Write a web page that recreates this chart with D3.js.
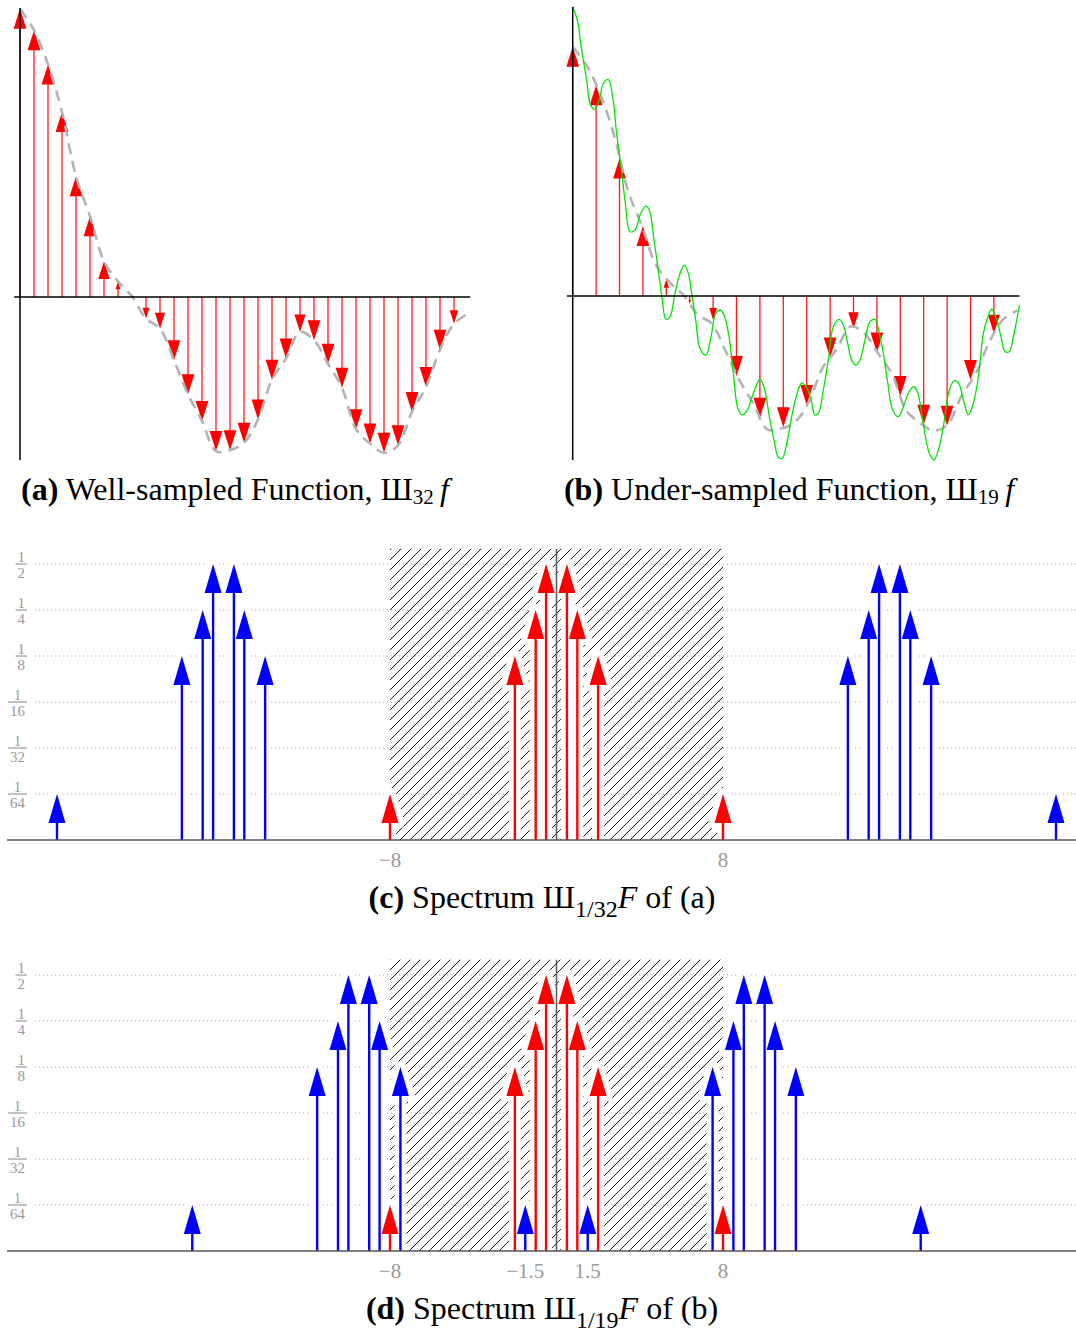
<!DOCTYPE html>
<html>
<head>
<meta charset="utf-8">
<script src="https://cdn.jsdelivr.net/npm/d3@7"></script>
<style>
  body { margin: 0; background: #fff; }
  svg { display: block; font-family: "Liberation Serif", "Times New Roman", serif; }
</style>
</head>
<body>
<div class="chart"></div>
<script>
// Section 1: data
// (a) samples of f at t = i/32, f(0) = 1
var wellSamples = [1.00, 0.926, 0.807, 0.642, 0.419, 0.280, 0.124, 0.054,
  0.002, -0.075, -0.110, -0.220, -0.338, -0.431, -0.535, -0.532,
  -0.506, -0.425, -0.287, -0.214, -0.122, -0.150, -0.232, -0.315,
  -0.459, -0.509, -0.541, -0.515, -0.399, -0.313, -0.183, -0.093];
var curveEndValue = -0.058; // dashed curve at t = 1

// (b) samples of f at t = k/19
var underSamples = [1.00, 0.846, 0.552, 0.281, 0.067, -0.032, -0.096, -0.321,
  -0.488, -0.527, -0.437, -0.247, -0.130, -0.227, -0.401, -0.517,
  -0.521, -0.337, -0.150];

// (b) green reconstruction from the 19 samples
var reconT = [0, 0.0104, 0.0202, 0.0314, 0.0404, 0.0502, 0.0614, 0.0689, 0.0801, 0.0899,
  0.0989, 0.1079, 0.1176, 0.1289, 0.1401, 0.1529, 0.1649, 0.1724, 0.1829, 0.1904,
  0.2001, 0.2099, 0.2189, 0.2301, 0.2414, 0.2511, 0.2601, 0.2676, 0.2766, 0.2863,
  0.2998, 0.3111, 0.3216, 0.3313, 0.3403, 0.3516, 0.3613, 0.3725, 0.3823, 0.3928,
  0.4063, 0.4213, 0.4310, 0.4423, 0.4528, 0.4625, 0.4715, 0.4828, 0.4940, 0.5038,
  0.5150, 0.5248, 0.5353, 0.5450, 0.5525, 0.5638, 0.5750, 0.5862, 0.5997, 0.6087,
  0.6185, 0.6274, 0.6372, 0.6462, 0.6574, 0.6687, 0.6799, 0.6897, 0.6987, 0.7077,
  0.7197, 0.7324, 0.7437, 0.7549, 0.7662, 0.7752, 0.7872, 0.7962, 0.8037, 0.8127,
  0.8225, 0.8337, 0.8472, 0.8577, 0.8675, 0.8787, 0.8900, 0.9012, 0.9125, 0.9237,
  0.9327, 0.9424, 0.9537, 0.9634, 0.9724, 0.9822, 0.9912, 0.9987, 1.0047];
var reconV = [1.161, 1.107, 0.987, 0.866, 0.766, 0.749, 0.800, 0.853, 0.869, 0.800,
  0.652, 0.532, 0.385, 0.258, 0.265, 0.332, 0.361, 0.345, 0.225, 0.131,
  0.004, -0.094, -0.083, 0.011, 0.091, 0.124, 0.091, 0.011, -0.096, -0.210,
  -0.237, -0.163, -0.070, -0.056, -0.076, -0.163, -0.310, -0.457, -0.477, -0.457,
  -0.390, -0.334, -0.370, -0.484, -0.578, -0.647, -0.651, -0.578, -0.471, -0.397,
  -0.350, -0.364, -0.410, -0.477, -0.471, -0.377, -0.257, -0.123, -0.094, -0.116,
  -0.190, -0.257, -0.277, -0.257, -0.176, -0.103, -0.094, -0.150, -0.230, -0.337,
  -0.457, -0.484, -0.444, -0.390, -0.364, -0.384, -0.497, -0.591, -0.638, -0.658,
  -0.618, -0.524, -0.377, -0.340, -0.348, -0.417, -0.477, -0.431, -0.324, -0.150,
  -0.090, -0.053, -0.096, -0.163, -0.223, -0.223, -0.163, -0.096, -0.036];

// spectrum of f
var origFreqs = [-8, -2, -1, -0.5, 0.5, 1, 2, 8];
var origAmps = [1/64, 1/8, 1/4, 1/2, 1/2, 1/4, 1/8, 1/64];
// aliased copies in (c)
var aliasFreqsC = [-24, -18, -17, -16.5, -15.5, -15, -14, 14, 15, 15.5, 16.5, 17, 18, 24];
var aliasAmpsC = [1/64, 1/8, 1/4, 1/2, 1/2, 1/4, 1/8, 1/8, 1/4, 1/2, 1/2, 1/4, 1/8, 1/64];
// aliased copies in (d)
var aliasFreqsD = [-17.5, -11.5, -10.5, -10, -9, -8.5, -7.5, -1.5, 1.5, 7.5, 8.5, 9, 10, 10.5, 11.5, 17.5];
var aliasAmpsD = [1/64, 1/8, 1/4, 1/2, 1/2, 1/4, 1/8, 1/64, 1/64, 1/8, 1/4, 1/2, 1/2, 1/4, 1/8, 1/64];

var gridLevels = [1/2, 1/4, 1/8, 1/16, 1/32, 1/64];
var gridDenoms = ["2", "4", "8", "16", "32", "64"];
var bandEdges = [-8, 8];
var xTicksC = [-8, 8];
var xTickTextC = ["\u22128", "8"];
var xTicksD = [-8, -1.5, 1.5, 8];
var xTickTextD = ["\u22128", "\u22121.5", "1.5", "8"];

// Section 2: svg
var svgWidth = 1076;
var svgHeight = 1332;

var svg = d3
  .select(".chart")
  .append("svg")
  .attr("width", svgWidth)
  .attr("height", svgHeight);

var defs = svg.append("defs");

// diagonal hatching for the pass band
defs
  .append("pattern")
  .attr("id", "hatch")
  .attr("patternUnits", "userSpaceOnUse")
  .attr("width", 10)
  .attr("height", 10)
  .append("path")
  .attr("d", "M-2,2 L2,-2 M0,10 L10,0 M8,12 L12,8")
  .attr("stroke", "#000")
  .attr("stroke-width", 0.9);

// Section 3: sampled function panels
function samplePanel(x, y, sampleValues, showRecon) {
  var g = svg.append("g");
  var n = sampleValues.length;

  // dashed original curve
  var curvePts = wellSamples.map((v, i) => [i / wellSamples.length, v]);
  curvePts.push([1, curveEndValue]);

  var line = d3
    .line()
    .x((d) => x(d[0]))
    .y((d) => y(d[1]))
    .curve(d3.curveCatmullRom);

  // stems and heads
  var arrows = g
    .selectAll(".sample")
    .data(sampleValues)
    .enter()
    .append("g")
    .classed("sample", true);

  arrows
    .append("line")
    .attr("x1", (d, i) => x(i / n))
    .attr("x2", (d, i) => x(i / n))
    .attr("y1", y(0))
    .attr("y2", (d) => {
      var len = Math.abs(y(0) - y(d));
      var hl = Math.min(20, len * 0.5);
      return y(d) + (d > 0 ? 1 : -1) * hl * 0.5;
    })
    .attr("stroke", "#ff1a1a")
    .attr("stroke-width", 1.3);

  arrows
    .append("path")
    .attr("d", (d, i) => {
      var cx = x(i / n);
      var tip = y(d);
      var len = Math.abs(y(0) - tip);
      var hl = Math.min(20, len * 0.5);
      var hw = hl * 0.32;
      var base = tip + (d > 0 ? 1 : -1) * hl;
      return `M${cx - hw},${base} L${cx},${tip} L${cx + hw},${base} Z`;
    })
    .attr("fill", "#ff0000");

  g.append("path")
    .datum(curvePts)
    .attr("d", line)
    .attr("fill", "none")
    .attr("stroke", "#b3b3b3")
    .attr("stroke-width", 2.6)
    .attr("stroke-dasharray", "11,7");

  if (showRecon) {
    var reconPts = reconT.map((t, i) => [t, reconV[i]]);
    g.append("path")
      .datum(reconPts)
      .attr("d", d3.line().x((d) => x(d[0])).y((d) => y(d[1])).curve(d3.curveCatmullRom))
      .attr("fill", "none")
      .attr("stroke", "#00e600")
      .attr("stroke-width", 1.3);
  }

  // axes
  g.append("line")
    .attr("x1", x(0))
    .attr("x2", x(0))
    .attr("y1", y.range()[1])
    .attr("y2", y.range()[0])
    .attr("stroke", "#000")
    .attr("stroke-width", 1.5);

  g.append("line")
    .attr("x1", x(-0.013))
    .attr("x2", x(1.005))
    .attr("y1", y(0))
    .attr("y2", y(0))
    .attr("stroke", "#000")
    .attr("stroke-width", 1.5);
}

var xA = d3.scaleLinear().domain([0, 1]).range([20, 468]);
var yA = d3.scaleLinear().domain([-0.566, 1.003]).range([460, 8]);
samplePanel(xA, yA, wellSamples, false);

var xB = d3.scaleLinear().domain([0, 1]).range([572.7, 1017.3]);
var yB = d3.scaleLinear().domain([-0.658, 1.16]).range([460, 7]);
samplePanel(xB, yB, underSamples, true);

// Section 4: spectrum panels
var xS = d3.scaleLinear().domain([-8, 8]).range([390, 723]);

function arrowShape(cx, tip, base) {
  var hl = 29;
  var hw = 8.5;
  return `M${cx},${base} L${cx},${tip + hl} M${cx - hw},${tip + hl} L${cx},${tip} L${cx + hw},${tip + hl} Z`;
}

function spectrumPanel(baseY, aliasFreqs, aliasAmps, ticks, tickText) {
  var y = d3.scaleLog().base(2).domain([1 / 128, 1 / 2]).range([baseY, baseY - 276]);
  var g = svg.append("g");
  var bandTop = y(0.63);

  // dotted grid
  g.selectAll(".grid")
    .data(gridLevels)
    .enter()
    .append("line")
    .attr("x1", 35)
    .attr("x2", svgWidth)
    .attr("y1", (d) => y(d))
    .attr("y2", (d) => y(d))
    .attr("stroke", "#aaa")
    .attr("stroke-width", 1)
    .attr("stroke-dasharray", "1.2,2.8");

  // fraction labels
  gridLevels.forEach(function (lvl, i) {
    var ly = y(lvl);
    var den = g
      .append("text")
      .attr("y", ly + 13.5)
      .attr("font-size", 15)
      .attr("fill", "#999")
      .attr("text-anchor", "middle")
      .text(gridDenoms[i]);
    var w = den.node().getComputedTextLength() + 4;
    var cx = 27 - w / 2;
    den.attr("x", cx);
    g.append("text")
      .attr("x", cx)
      .attr("y", ly - 2.5)
      .attr("font-size", 15)
      .attr("fill", "#999")
      .attr("text-anchor", "middle")
      .text("1");
    g.append("line")
      .attr("x1", 27 - w)
      .attr("x2", 27)
      .attr("y1", ly)
      .attr("y2", ly)
      .attr("stroke", "#999")
      .attr("stroke-width", 1.2);
  });

  // hatched band between -8 and 8
  g.append("rect")
    .attr("x", xS(bandEdges[0]))
    .attr("y", bandTop)
    .attr("width", xS(bandEdges[1]) - xS(bandEdges[0]))
    .attr("height", baseY - bandTop)
    .attr("fill", "url(#hatch)");

  var all = aliasFreqs
    .map((f, i) => ({ f: f, a: aliasAmps[i], c: "#0000ff" }))
    .concat(origFreqs.map((f, i) => ({ f: f, a: origAmps[i], c: "#ff0000" })));

  // white halos
  g.selectAll(".halo")
    .data(all)
    .enter()
    .append("path")
    .attr("d", (d) => arrowShape(xS(d.f), y(d.a), baseY))
    .attr("fill", "#fff")
    .attr("stroke", "#fff")
    .attr("stroke-width", 12)
    .attr("stroke-linejoin", "round");

  // arrows
  var arrows = g.selectAll(".spike").data(all).enter().append("g");

  arrows
    .append("line")
    .attr("x1", (d) => xS(d.f))
    .attr("x2", (d) => xS(d.f))
    .attr("y1", baseY)
    .attr("y2", (d) => y(d.a) + 20)
    .attr("stroke", (d) => d.c)
    .attr("stroke-width", 2.4);

  arrows
    .append("path")
    .attr("d", (d) => {
      var cx = xS(d.f);
      var tip = y(d.a);
      return `M${cx - 8.5},${tip + 29} L${cx},${tip} L${cx + 8.5},${tip + 29} Z`;
    })
    .attr("fill", (d) => d.c);

  // axes
  g.append("line")
    .attr("x1", xS(0))
    .attr("x2", xS(0))
    .attr("y1", bandTop)
    .attr("y2", baseY)
    .attr("stroke", "#606060")
    .attr("stroke-width", 1.6);

  g.append("line")
    .attr("x1", 7)
    .attr("x2", svgWidth)
    .attr("y1", baseY)
    .attr("y2", baseY)
    .attr("stroke", "#555")
    .attr("stroke-width", 1.6);

  // x tick labels
  g.selectAll(".xtick")
    .data(ticks)
    .enter()
    .append("text")
    .attr("x", (d) => xS(d))
    .attr("y", baseY + 27)
    .attr("font-size", 21)
    .attr("fill", "#999")
    .attr("text-anchor", "middle")
    .text((d, i) => tickText[i]);
}

spectrumPanel(840, aliasFreqsC, aliasAmpsC, xTicksC, xTickTextC);
spectrumPanel(1251, aliasFreqsD, aliasAmpsD, xTicksD, xTickTextD);

// Section 5: captions
function caption(cx, y, tag, before, sub, subSize, subShift, italic, tail) {
  var t = svg
    .append("text")
    .attr("x", cx)
    .attr("y", y)
    .attr("font-size", 32)
    .attr("text-anchor", "middle")
    .attr("fill", "#000");
  t.append("tspan").attr("font-weight", "bold").text(tag);
  t.append("tspan").text(before);
  t.append("tspan").attr("font-size", subSize).attr("dy", subShift).text(sub);
  t.append("tspan").attr("dy", -subShift).attr("font-style", "italic").text(italic);
  if (tail) t.append("tspan").text(tail);
}

caption(235, 500, "(a)", " Well-sampled Function, \u0428", "32", 21, 4, "\u2009f", "");
caption(789, 500, "(b)", " Under-sampled Function, \u0428", "19", 21, 4, "\u2009f", "");
caption(542, 908, "(c)", " Spectrum \u0428", "1/32", 24, 9, "F", " of (a)");
caption(542, 1319, "(d)", " Spectrum \u0428", "1/19", 24, 9, "F", " of (b)");
</script>
</body>
</html>
